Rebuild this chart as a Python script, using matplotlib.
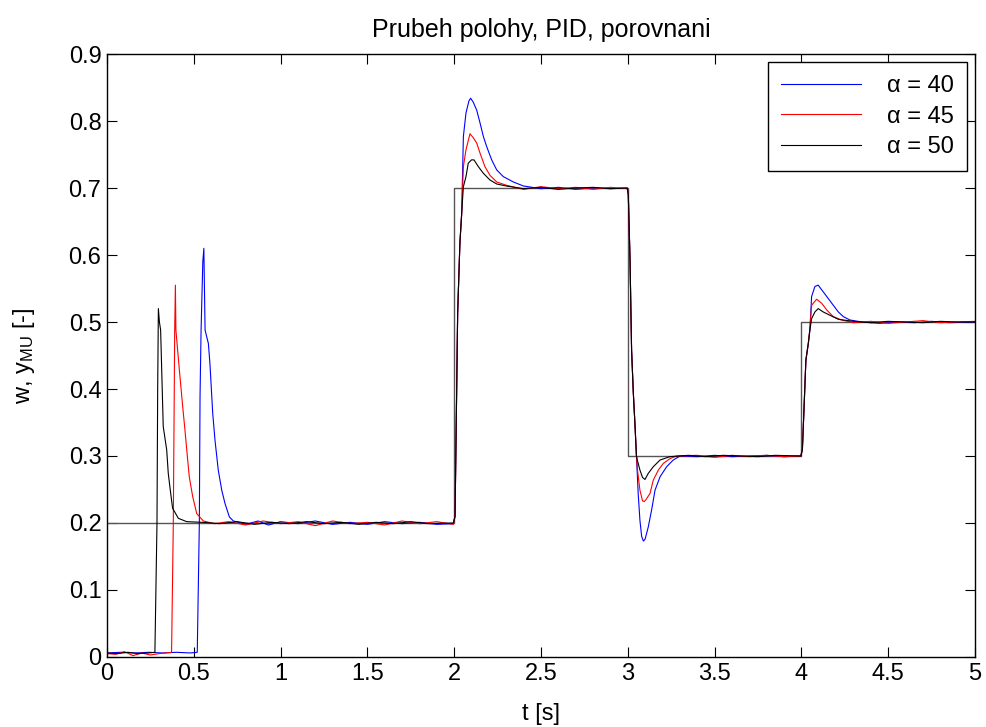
import matplotlib
matplotlib.use("Agg")
import matplotlib.pyplot as plt

# Fonts - Arial-like look
plt.rcParams['font.family'] = ['Liberation Sans', 'DejaVu Sans']
plt.rcParams['mathtext.fontset'] = 'custom'
plt.rcParams['mathtext.rm'] = 'Liberation Sans'
plt.rcParams['mathtext.it'] = 'Liberation Sans'

# Setpoint w
t_w = [0, 2, 2, 3, 3, 4, 4, 5]
w = [0.2, 0.2, 0.7, 0.7, 0.3, 0.3, 0.5, 0.5]

# alpha = 40 (blue)
t_40 = [0, 0.08, 0.16, 0.24, 0.32, 0.40, 0.48, 0.52, 0.532, 0.536, 0.542, 0.552, 0.558,
        0.565, 0.584, 0.593, 0.609, 0.622, 0.641, 0.661, 0.680, 0.705, 0.728,
        0.80, 0.87, 0.93, 1.0, 1.1, 1.2, 1.3, 1.4, 1.5, 1.6, 1.7, 1.8, 1.9, 1.995,
        2.005, 2.02, 2.033, 2.043, 2.053, 2.068, 2.085, 2.095, 2.11, 2.13, 2.149, 2.168,
        2.187, 2.216, 2.245, 2.283, 2.341, 2.399, 2.5, 2.6, 2.7, 2.8, 2.9, 2.997,
        3.003, 3.013, 3.022, 3.032, 3.042, 3.05, 3.06, 3.07, 3.08, 3.09, 3.10, 3.118,
        3.137, 3.157, 3.186, 3.224, 3.262, 3.301, 3.4, 3.5, 3.6, 3.7, 3.8, 3.9, 3.997,
        4.006, 4.015, 4.026, 4.04, 4.049, 4.059, 4.078, 4.097, 4.126, 4.155, 4.184,
        4.213, 4.242, 4.28, 4.35, 4.45, 4.55, 4.65, 4.75, 4.85, 5.0]
y_40 = [0.006, 0.007, 0.006, 0.007, 0.006, 0.007, 0.006, 0.007, 0.2, 0.389, 0.488, 0.59, 0.61,
        0.488, 0.468, 0.438, 0.364, 0.324, 0.279, 0.249, 0.229, 0.209, 0.203,
        0.198, 0.203, 0.197, 0.202, 0.199, 0.203, 0.198, 0.201, 0.198, 0.202, 0.199, 0.201, 0.198, 0.199,
        0.21, 0.513, 0.618, 0.66, 0.777, 0.812, 0.83, 0.834, 0.828, 0.816, 0.797, 0.777,
        0.762, 0.742, 0.727, 0.717, 0.709, 0.703, 0.699, 0.701, 0.698, 0.700, 0.699, 0.700,
        0.69, 0.593, 0.458, 0.394, 0.344, 0.30, 0.244, 0.204, 0.18, 0.173, 0.176, 0.194,
        0.219, 0.249, 0.269, 0.284, 0.294, 0.300, 0.299, 0.301, 0.299, 0.300, 0.301, 0.299, 0.300,
        0.31, 0.369, 0.443, 0.468, 0.488, 0.538, 0.553, 0.555, 0.545, 0.535, 0.525,
        0.515, 0.508, 0.503, 0.500, 0.498, 0.500, 0.499, 0.501, 0.499, 0.500]

# alpha = 45 (red)
t_45 = [0, 0.05, 0.1, 0.15, 0.2, 0.25, 0.3, 0.372, 0.382, 0.39, 0.394, 0.397,
        0.417, 0.436, 0.449, 0.463, 0.474, 0.494, 0.517, 0.555,
        0.62, 0.7, 0.8, 0.9, 1.0, 1.1, 1.2, 1.3, 1.4, 1.5, 1.6, 1.7, 1.8, 1.9, 1.995,
        2.005, 2.02, 2.033, 2.043, 2.053, 2.068, 2.091, 2.11, 2.13, 2.149, 2.177,
        2.206, 2.245, 2.302, 2.4, 2.5, 2.6, 2.7, 2.8, 2.9, 2.997,
        3.003, 3.013, 3.022, 3.032, 3.042, 3.05, 3.056, 3.07, 3.085, 3.095, 3.105,
        3.128, 3.147, 3.176, 3.205, 3.243, 3.28, 3.4, 3.5, 3.6, 3.7, 3.8, 3.9, 3.997,
        4.006, 4.015, 4.026, 4.04, 4.049, 4.059, 4.088, 4.117, 4.146, 4.184, 4.232,
        4.3, 4.4, 4.5, 4.6, 4.7, 4.8, 4.9, 5.0]
y_45 = [0.005, 0.004, 0.008, 0.002, 0.006, 0.003, 0.005, 0.007, 0.2, 0.488, 0.555, 0.488,
        0.428, 0.374, 0.339, 0.299, 0.269, 0.239, 0.214, 0.203,
        0.199, 0.202, 0.197, 0.203, 0.199, 0.202, 0.196, 0.203, 0.199, 0.201, 0.197, 0.203, 0.199, 0.202, 0.198,
        0.21, 0.513, 0.618, 0.66, 0.732, 0.757, 0.781, 0.775, 0.767, 0.752, 0.732,
        0.719, 0.709, 0.704, 0.698, 0.702, 0.699, 0.701, 0.698, 0.701, 0.699,
        0.69, 0.593, 0.458, 0.394, 0.344, 0.30, 0.279, 0.249, 0.233, 0.232, 0.235,
        0.244, 0.264, 0.279, 0.289, 0.296, 0.300, 0.301, 0.298, 0.301, 0.299, 0.301, 0.299, 0.300,
        0.31, 0.369, 0.443, 0.468, 0.49, 0.525, 0.534, 0.528, 0.518, 0.508, 0.503,
        0.499, 0.501, 0.498, 0.500, 0.502, 0.499, 0.500, 0.501]

# alpha = 50 (black)
t_50 = [0, 0.06, 0.12, 0.18, 0.24, 0.276, 0.288, 0.292, 0.296, 0.302, 0.309,
        0.324, 0.344, 0.353, 0.367, 0.378, 0.411, 0.459,
        0.55, 0.65, 0.75, 0.85, 0.95, 1.05, 1.15, 1.25, 1.35, 1.45, 1.55, 1.65, 1.75, 1.85, 1.995,
        2.005, 2.02, 2.033, 2.043, 2.053, 2.068, 2.081, 2.1, 2.114, 2.139, 2.168,
        2.206, 2.245, 2.3, 2.4, 2.5, 2.6, 2.7, 2.8, 2.9, 2.997,
        3.003, 3.013, 3.022, 3.032, 3.042, 3.05, 3.055, 3.07, 3.085, 3.099, 3.118,
        3.147, 3.186, 3.243, 3.35, 3.45, 3.55, 3.65, 3.75, 3.85, 3.997,
        4.006, 4.015, 4.026, 4.04, 4.049, 4.059, 4.078, 4.097, 4.126, 4.165, 4.213,
        4.3, 4.4, 4.5, 4.6, 4.7, 4.8, 4.9, 5.0]
y_50 = [0.006, 0.005, 0.007, 0.005, 0.006, 0.007, 0.2, 0.4, 0.52, 0.50, 0.488,
        0.344, 0.309, 0.274, 0.244, 0.222, 0.207, 0.202,
        0.201, 0.199, 0.202, 0.198, 0.201, 0.199, 0.202, 0.199, 0.201, 0.198, 0.201, 0.199, 0.202, 0.199, 0.200,
        0.21, 0.513, 0.618, 0.662, 0.702, 0.717, 0.737, 0.742, 0.742, 0.732, 0.722,
        0.712, 0.706, 0.703, 0.699, 0.701, 0.698, 0.700, 0.701, 0.699, 0.700,
        0.69, 0.593, 0.458, 0.394, 0.344, 0.30, 0.294, 0.279, 0.268, 0.265, 0.274,
        0.284, 0.294, 0.299, 0.301, 0.299, 0.301, 0.300, 0.299, 0.301, 0.300,
        0.31, 0.369, 0.443, 0.468, 0.488, 0.505, 0.515, 0.52, 0.515, 0.51, 0.504,
        0.501, 0.499, 0.501, 0.500, 0.499, 0.501, 0.500, 0.500]

fig = plt.figure(figsize=(9.87, 7.27), dpi=100)
ax = fig.add_axes([0.1084, 0.0963, 0.8794, 0.8294])

ax.plot(t_w, w, color='#555555', lw=1.0)
ax.plot(t_40, y_40, color='#0000ff', lw=0.8, label=r'α = 40')
ax.plot(t_45, y_45, color='#ff0000', lw=0.8, label=r'α = 45')
ax.plot(t_50, y_50, color='#000000', lw=0.8, label=r'α = 50')

ax.set_xlim(0, 5)
ax.set_ylim(0, 0.9)
ax.set_xticks([0, 0.5, 1, 1.5, 2, 2.5, 3, 3.5, 4, 4.5, 5])
ax.set_xticklabels(['0', '0.5', '1', '1.5', '2', '2.5', '3', '3.5', '4', '4.5', '5'])
ax.set_yticks([0, 0.1, 0.2, 0.3, 0.4, 0.5, 0.6, 0.7, 0.8, 0.9])
ax.set_yticklabels(['0', '0.1', '0.2', '0.3', '0.4', '0.5', '0.6', '0.7', '0.8', '0.9'])
ax.tick_params(direction='in', top=True, right=True, length=7, width=0.8,
               labelsize=17, pad=4)
for sp in ax.spines.values():
    sp.set_linewidth(1.0)

ax.set_title('Prubeh polohy, PID, porovnani', fontsize=18, pad=12)
ax.set_xlabel('t [s]', fontsize=17, labelpad=13)
ax.set_ylabel(r'w, y$_{\mathrm{MU}}$ [-]', fontsize=17, labelpad=23)

leg = ax.legend(loc='upper right', fontsize=17, fancybox=False, edgecolor='black',
                framealpha=1, handlelength=3.4, handletextpad=1.1, labelspacing=0.35,
                borderaxespad=0.35, borderpad=0.55)
leg.get_frame().set_linewidth(1.0)

fig.savefig('out.png', dpi=100)
